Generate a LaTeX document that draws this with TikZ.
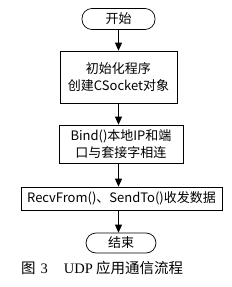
\documentclass[tikz,border=0pt]{standalone}
\usepackage{fontspec}
\setmainfont{Noto Sans CJK SC}
\newfontfamily\capfont{Liberation Serif}
\newfontfamily\cjk{Noto Sans CJK SC}
\usetikzlibrary{arrows.meta}

\begin{document}
\begin{tikzpicture}[
  x=1pt, y=-1pt,
  term/.style={
    draw=black, fill=white, rectangle, rounded corners=10pt,
    minimum height=21pt, align=center, font=\fontsize{13}{14}\selectfont,
    inner sep=1pt, line width=0.7pt
  },
  proc/.style={
    draw=black, fill=white, rectangle,
    align=center, font=\fontsize{13}{17}\selectfont,
    inner sep=1pt, line width=0.7pt
  },
  arr/.style={-{Triangle[width=7pt,length=8pt]}, line width=0.8pt}
]
\useasboundingbox (0,0) rectangle (231,287);

%% -- Steps --------------------------------------------------
\node[term, minimum width=73pt] (start) at (118.5, 19) {开始};
\node[proc, minimum width=117pt, minimum height=52pt] (init) at (118.5, 77)
  {初始化程序\\创建CSocket对象};
\node[proc, minimum width=124pt, minimum height=38pt] (bind) at (121, 144)
  {Bind()本地IP和端\\口与套接字相连};
\node[proc, minimum width=201pt, minimum height=23pt] (recv) at (121.5, 198.5)
  {RecvFrom()、SendTo()收发数据};
\node[term, minimum width=70pt, minimum height=20pt] (stop) at (121, 243) {结束};

\draw[arr] (start) -- (start|-init.north);
\draw[arr] (init.south-|start) -- (start|-bind.north);
\draw[arr] (bind.south-|start) -- (start|-recv.north);
\draw[arr] (recv.south-|start) -- (start|-stop.north);

%% -- Caption ------------------------------------------------
\node[font=\fontsize{14.5}{16}\selectfont, anchor=west, inner sep=0pt] (cap) at (21, 268)
  {图\hspace{5pt}{\capfont 3}\hspace{16pt}{\capfont UDP} 应用通信流程};

\end{tikzpicture}
\end{document}
